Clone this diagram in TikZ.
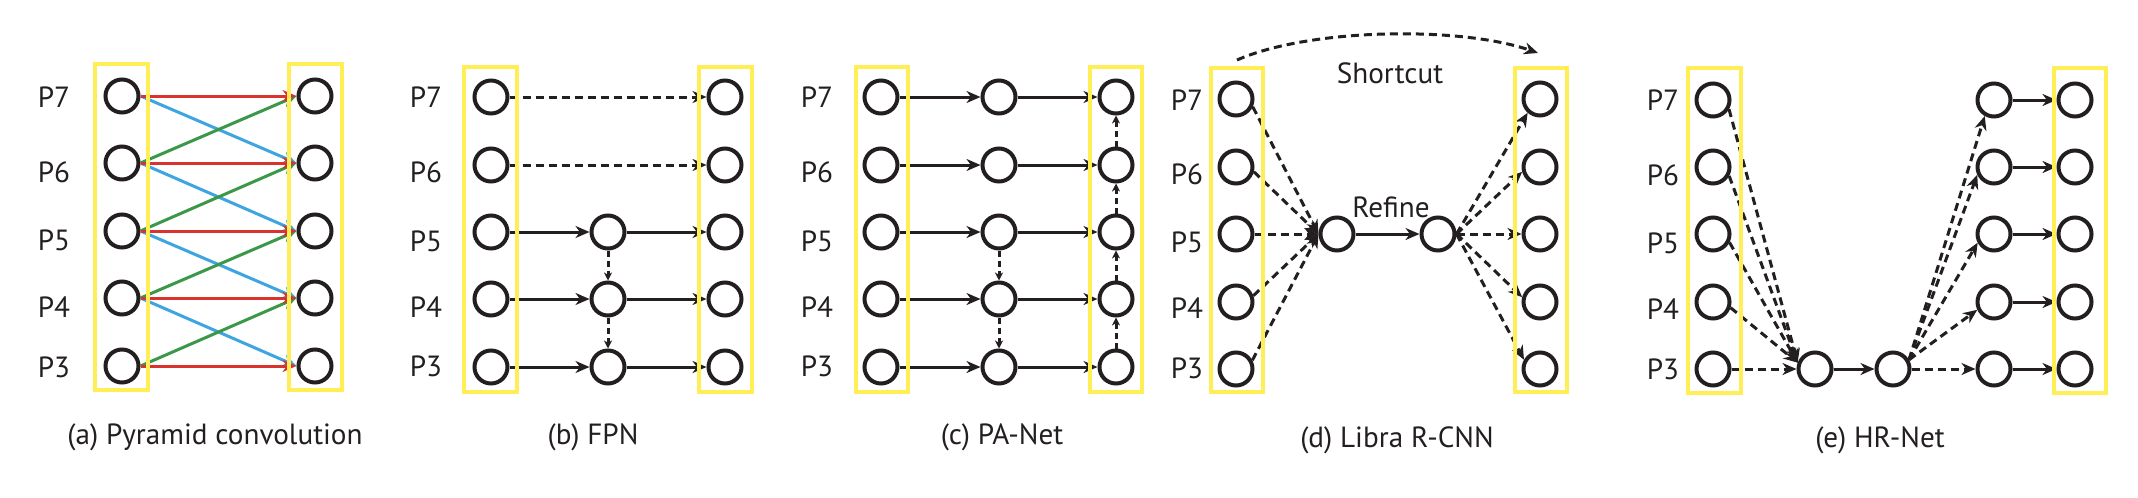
\documentclass[tikz,border=0pt]{standalone}
\usepackage{fontspec}
\setmainfont{PT Sans}
\usetikzlibrary{arrows.meta}
\definecolor{ink}{RGB}{35,31,32}
\definecolor{yel}{RGB}{255,238,85}
\definecolor{cred}{RGB}{218,50,45}
\definecolor{cblue}{RGB}{62,165,225}
\definecolor{cgreen}{RGB}{58,152,72}
\tikzset{
  nd/.style={circle, draw=ink, line width=2pt, minimum size=16.5pt, inner sep=0pt},
  ybox/.style={draw=yel, line width=1.8pt},
  ar/.style={-{Stealth[length=7pt,width=6pt,inset=2.2pt]}, line width=1.5pt, draw=ink},
  da/.style={ar, dash pattern=on 4pt off 2.5pt},
  dv/.style={-{Stealth[length=4pt,width=4pt,inset=1.2pt]}, line width=1.5pt, draw=ink, dash pattern=on 3pt off 2pt},
  car/.style={-{Stealth[length=7pt,width=6pt,inset=2.2pt]}, line width=1.5pt},
  lab/.style={font=\fontsize{14.6}{16}\selectfont, text=ink, inner sep=0pt},
}
\begin{document}
\begin{tikzpicture}[x=0.5pt,y=-0.5pt]
\useasboundingbox (0,0) rectangle (2138,498);
% ---------------- (a) ----------------
\foreach \p/\yy in {7/96,6/163,5/231,4/298,3/366}{
  \node[nd] (aL\p) at (122,\yy) {};
  \node[nd] (aR\p) at (315,\yy) {};
}
\foreach \p/\yy in {7/97,6/172,5/240,4/307,3/367}{
  \node[lab] (aP\p) at (54,\yy) {P\p};
}
\foreach \s/\t in {7/6,6/5,5/4,4/3}{
  \draw[car,draw=cblue] (aL\s.east) -- (aR\t.west);
}
\foreach \s/\t in {6/7,5/6,4/5,3/4}{
  \draw[car,draw=cgreen] (aL\s.east) -- (aR\t.west);
}
\foreach \s in {7,6,5,4,3}{
  \draw[car,draw=cred] (aL\s.east) -- (aR\s.west);
}
\draw[ybox] (95,64) rectangle (148,390);
\draw[ybox] (289,64) rectangle (342,390);
\node[lab] (capa) at (215,437) {(a) Pyramid convolution};
% ---------------- (b) ----------------
\foreach \p/\yy in {7/97,6/165,5/232,4/299,3/367}{
  \node[nd] (bL\p) at (491,\yy) {};
  \node[nd] (bR\p) at (725,\yy) {};
}
\foreach \p/\yy in {5/232,4/299,3/367}{
  \node[nd] (bM\p) at (608,\yy) {};
}
\foreach \p/\yy in {7/97,6/172,5/241,4/307,3/366}{
  \node[lab] (bP\p) at (426,\yy) {P\p};
}
\draw[da] (bL7.east) -- (bR7.west);
\draw[da] (bL6.east) -- (bR6.west);
\foreach \s in {5,4,3}{
  \draw[ar] (bL\s.east) -- (bM\s.west);
  \draw[ar] (bM\s.east) -- (bR\s.west);
}
\draw[dv] (bM5.south) -- (bM4.north);
\draw[dv] (bM4.south) -- (bM3.north);
\draw[ybox] (464,67) rectangle (517,392);
\draw[ybox] (699,67) rectangle (752,392);
\node[lab] (capb) at (593,437) {(b) FPN};
% ---------------- (c) ----------------
\foreach \p/\yy in {7/97,6/165,5/232,4/299,3/367}{
  \node[nd] (cL\p) at (881,\yy) {};
  \node[nd] (cM\p) at (999,\yy) {};
  \node[nd] (cR\p) at (1116,\yy) {};
}
\foreach \p/\yy in {7/97,6/172,5/241,4/307,3/366}{
  \node[lab] (cP\p) at (817,\yy) {P\p};
}
\foreach \s in {7,6,5,4,3}{
  \draw[ar] (cL\s.east) -- (cM\s.west);
  \draw[ar] (cM\s.east) -- (cR\s.west);
}
\draw[dv] (cM5.south) -- (cM4.north);
\draw[dv] (cM4.south) -- (cM3.north);
\draw[dv] (cR3.north) -- (cR4.south);
\draw[dv] (cR4.north) -- (cR5.south);
\draw[dv] (cR5.north) -- (cR6.south);
\draw[dv] (cR6.north) -- (cR7.south);
\draw[ybox] (856,67) rectangle (908,392);
\draw[ybox] (1090,67) rectangle (1142,392);
\node[lab] (capc) at (1002,437) {(c) PA-Net};
% ---------------- (d) ----------------
\foreach \p/\yy in {7/99,6/167,5/234,4/302,3/369}{
  \node[nd] (dL\p) at (1236,\yy) {};
  \node[nd] (dR\p) at (1540,\yy) {};
}
\node[nd] (dIn) at (1337,234) {};
\node[nd] (dOut) at (1438,234) {};
\foreach \p/\yy in {7/100,6/174,5/242,4/308,3/368}{
  \node[lab] (dP\p) at (1187,\yy) {P\p};
}
\foreach \s/\a in {7/-25,6/-15,5/0,4/20,3/28}{
  \draw[da] (dL\s.\a) -- (dIn.west);
}
\draw[ar] (dIn.east) -- (dOut.west);
\foreach \s/\a in {7/228,6/195,5/180,4/165,3/150}{
  \draw[da] (dOut.east) -- (dR\s.\a);
}
\coordinate (sc1) at (1237,60);
\coordinate (sc2) at (1538,53);
\draw[da] (sc1) .. controls (1310,28) and (1460,26) .. (sc2);
\node[lab] (short) at (1390,73) {Shortcut};
\node[lab] (refine) at (1391,207) {Refine};
\draw[ybox] (1211,68) rectangle (1263,392);
\draw[ybox] (1515,68) rectangle (1567,392);
\node[lab] (capd) at (1397,440) {(d) Libra R-CNN};
% ---------------- (e) ----------------
\foreach \p/\yy in {7/100,6/167,5/234,4/302,3/369}{
  \node[nd] (eL\p) at (1713,\yy) {};
  \node[nd] (eC\p) at (1994,\yy) {};
  \node[nd] (eR\p) at (2075,\yy) {};
}
\node[nd] (eA) at (1815,369) {};
\node[nd] (eB) at (1893,369) {};
\foreach \p/\yy in {7/100,6/175,5/243,4/309,3/369}{
  \node[lab] (eP\p) at (1663,\yy) {P\p};
}
\foreach \s/\a in {7/-30,6/-29,5/-27,4/-18}{
  \draw[da] (eL\s.\a) -- (eA.160);
}
\draw[da] (eL3.east) -- (eA.west);
\draw[ar] (eA.east) -- (eB.west);
\foreach \s/\a in {7/240,6/205,5/208,4/205}{
  \draw[da] (eB.30) -- (eC\s.\a);
}
\draw[da] (eB.east) -- (eC3.west);
\foreach \s in {7,6,5,4,3}{
  \draw[ar] (eC\s.east) -- (eR\s.west);
}
\draw[ybox] (1688,68) rectangle (1741,393);
\draw[ybox] (2054,68) rectangle (2106,393);
\node[lab] (cape) at (1880,440) {(e) HR-Net};
\end{tikzpicture}
\end{document}
